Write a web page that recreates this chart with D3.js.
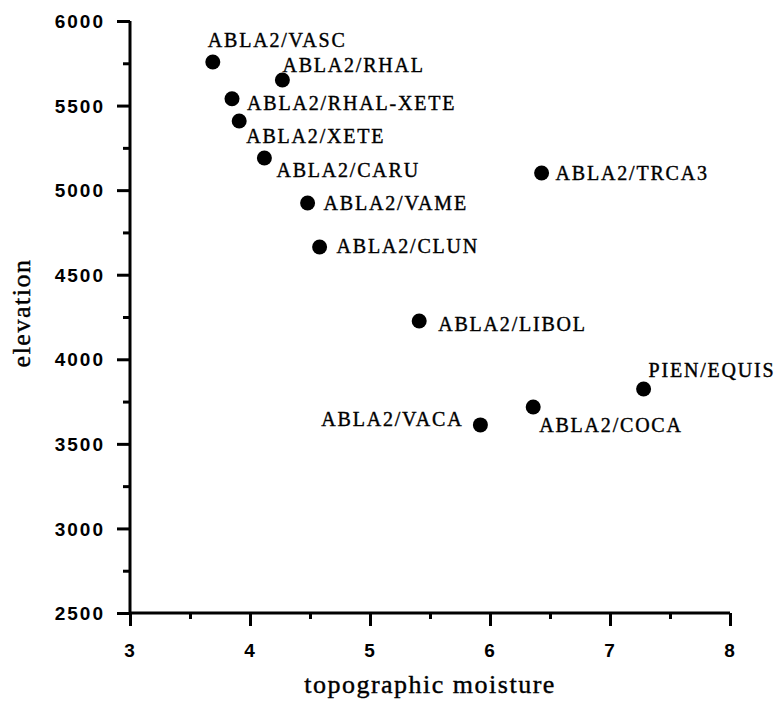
<!DOCTYPE html>
<html>
<head>
<meta charset="utf-8">
<script src="https://cdn.jsdelivr.net/npm/d3@7"></script>
<style>
  body { margin: 0; background: #fff; }
  .tick-label { font-family: "Liberation Sans", Arial, sans-serif; font-weight: bold; font-size: 19px; letter-spacing: 2px; }
  .pt-label { font-family: "Liberation Serif", "Times New Roman", serif; font-size: 20px; letter-spacing: 1.8px; stroke: #000; stroke-width: 0.4px; }
  .ax-title { font-family: "Liberation Serif", "Times New Roman", serif; font-size: 26px; letter-spacing: 1.5px; stroke: #000; stroke-width: 0.4px; }
</style>
</head>
<body>
<svg id="chart" width="777" height="712"></svg>
<script>
// community types
var names = ['ABLA2/VASC', 'ABLA2/RHAL', 'ABLA2/RHAL-XETE', 'ABLA2/XETE', 'ABLA2/CARU',
  'ABLA2/VAME', 'ABLA2/CLUN', 'ABLA2/LIBOL', 'ABLA2/TRCA3', 'PIEN/EQUIS',
  'ABLA2/COCA', 'ABLA2/VACA'];
var moisture = [3.69, 4.27, 3.85, 3.91, 4.12, 4.48, 4.58, 5.41, 6.43, 7.28, 6.36, 5.92];
var elevation = [5758, 5651, 5540, 5409, 5190, 4924, 4664, 4226, 5101, 3824, 3718, 3612];

var xTicks = [3, 4, 5, 6, 7, 8];
var yTicks = [2500, 3000, 3500, 4000, 4500, 5000, 5500, 6000];

// where each label sits relative to its dot  [dx, dy, anchor]
var labelPos = {
  'ABLA2/VASC': [-5, -15, 'start'],
  'ABLA2/RHAL': [0, -8, 'start'],
  'ABLA2/RHAL-XETE': [15, 11, 'start'],
  'ABLA2/XETE': [7, 22, 'start'],
  'ABLA2/CARU': [12, 19, 'start'],
  'ABLA2/VAME': [16, 7, 'start'],
  'ABLA2/CLUN': [17, 6, 'start'],
  'ABLA2/LIBOL': [19, 10, 'start'],
  'ABLA2/TRCA3': [14, 7, 'start'],
  'PIEN/EQUIS': [5, -12, 'start'],
  'ABLA2/COCA': [6, 25, 'start'],
  'ABLA2/VACA': [-17, 1, 'end']
};

var svg = d3.select('#chart');
var mLeft = 130, mRight = 730, mTop = 21, mBottom = 613;

var x = d3.scaleLinear().domain([3, 8]).range([mLeft, mRight]);
var y = d3.scaleLinear().domain([2500, 6000]).range([mBottom, mTop]);

var data = names.map(function(n, i) { return { name: n, x: moisture[i], y: elevation[i] }; });

// axes
var gx = svg.append('g').attr('transform', 'translate(0,' + mBottom + ')');
gx.call(d3.axisBottom(x).tickValues(d3.range(3, 8.01, 0.5)).tickSize(6).tickFormat(''));
gx.selectAll('.tick line')
  .attr('y2', function(d) { return d % 1 === 0 ? 13 : 6; });
gx.selectAll('.tick').filter(function(d) { return xTicks.indexOf(d) >= 0; })
  .append('text').attr('class', 'tick-label')
  .attr('fill', '#000').attr('y', 44)
  .attr('text-anchor', 'middle')
  .text(function(d) { return d; });

var gy = svg.append('g').attr('transform', 'translate(' + mLeft + ',0)');
gy.call(d3.axisLeft(y).tickValues(d3.range(2500, 6001, 250)).tickSize(6).tickFormat(''));
gy.selectAll('.tick line')
  .attr('x2', function(d) { return d % 500 === 0 ? -13 : -7; });
gy.selectAll('.tick').filter(function(d) { return yTicks.indexOf(d) >= 0; })
  .append('text').attr('class', 'tick-label')
  .attr('fill', '#000').attr('x', -25).attr('dy', '0.35em')
  .attr('text-anchor', 'end')
  .text(function(d) { return d; });

svg.selectAll('.domain').attr('stroke-width', 3).attr('stroke', '#000');
gx.select('.domain').attr('d', 'M' + mLeft + ',0H' + mRight);
gy.select('.domain').attr('d', 'M0,' + mTop + 'V' + mBottom);
svg.selectAll('.tick line').attr('stroke', '#000').attr('stroke-width', 3);
svg.selectAll('g').attr('font-family', null).attr('font-size', null);

// titles
svg.append('text').attr('class', 'ax-title')
  .attr('x', (mLeft + mRight) / 2).attr('y', 693)
  .attr('text-anchor', 'middle').text('topographic moisture');
svg.append('text').attr('class', 'ax-title')
  .attr('transform', 'translate(30,313) rotate(-90)')
  .attr('text-anchor', 'middle').text('elevation');

// points
svg.selectAll('circle.pt').data(data).enter().append('circle')
  .attr('class', 'pt')
  .attr('cx', function(d) { return x(d.x); })
  .attr('cy', function(d) { return y(d.y); })
  .attr('r', 7.5).attr('fill', '#000');

svg.selectAll('text.pt-label').data(data).enter().append('text')
  .attr('class', 'pt-label')
  .attr('x', function(d) { return x(d.x) + labelPos[d.name][0]; })
  .attr('y', function(d) { return y(d.y) + labelPos[d.name][1]; })
  .attr('text-anchor', function(d) { return labelPos[d.name][2]; })
  .text(function(d) { return d.name; });
</script>
</body>
</html>
